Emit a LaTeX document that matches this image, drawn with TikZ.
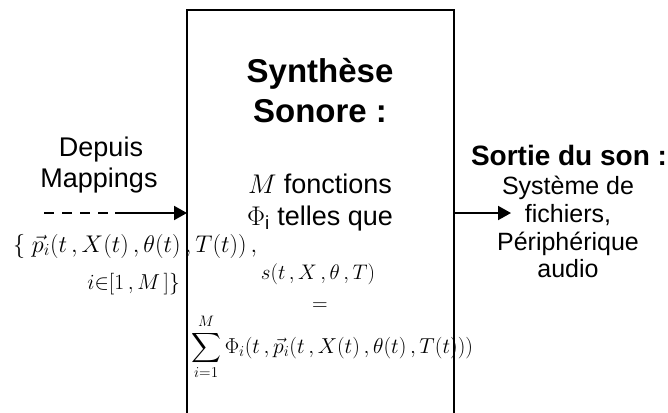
\documentclass[tikz,border=0pt]{standalone}
\usepackage{fix-cm}
\usepackage{amsmath}
\usepackage{graphicx}
\usepackage{fontspec}
\setmainfont{Liberation Sans}
\usetikzlibrary{arrows.meta}
\begin{document}
\begin{tikzpicture}[x=1pt,y=-1pt,
  txt/.style={inner sep=0pt, anchor=base, font=\fontsize{27}{31}\selectfont},
  outtxt/.style={inner sep=0pt, anchor=base, font=\fontsize{25}{28}\selectfont},
  ttl/.style={inner sep=0pt, anchor=base, font=\fontsize{33}{39}\selectfont\bfseries},
  outttl/.style={inner sep=0pt, anchor=base, font=\fontsize{28}{32}\selectfont\bfseries},
  mth/.style={inner sep=0pt, anchor=base, font=\fontsize{18}{22}\selectfont},
  boxline/.style={line width=2.5pt, black},
  conn/.style={line width=2pt, black},
  tip/.style={-{Triangle[length=13pt,width=14pt]}}
]
\useasboundingbox (0,0) rectangle (668,412);
\fill[white] (0,0) rectangle (668,412);

% coordinates
\coordinate (boxTL) at (187,10);
\coordinate (boxTR) at (454,10);
\coordinate (boxBL) at (187,420);
\coordinate (boxBR) at (454,420);
\coordinate (inStart) at (44,213);
\coordinate (inMid) at (115,213);
\coordinate (boxIn) at (187,213);
\coordinate (boxOut) at (454,213);
\coordinate (outTip) at (511,213);

% synthesis box (open at the bottom, beyond the frame)
\begin{scope}
\clip (0,0) rectangle (668,412);
\draw[boxline] (boxBL) -- (boxTL) -- (boxTR) -- (boxBR);
\end{scope}

% connectors
\draw[conn, dash pattern=on 10pt off 8pt] (inStart) -- (inMid);
\draw[conn, tip] (inMid) -- (boxIn);
\draw[conn, tip] (boxOut) -- (outTip);

% left labels
\node[txt] (dep1) at (101,156) {Depuis};
\node[txt] (dep2) at (99,187) {Mappings};

% box title
\node[ttl] (syn1) at (320,82) {Synthèse};
\node[ttl] (syn2) at (320,122) {Sonore :};
\node[txt] (fn1) at (320,193) {$M$ fonctions};
\node[txt] (fn2) at (320,225) {$\Phi$\textsubscript{i} telles que};

% output labels
\node[outttl] (out0) at (569,165) {Sortie du son :};
\node[outtxt] (out1) at (568,194) {Système de};
\node[outtxt] (out2) at (568,222) {fichiers,};
\node[outtxt] (out3) at (568,250) {Périphérique};
\node[outtxt] (out4) at (568,277) {audio};

% formulas
\node[mth, anchor=base west] (f1) at (13,252) {\scalebox{1.34}{$\{\;\vec{p}_i(t\,,X(t)\,,\theta(t)\,,T(t))\,,$}};
\node[mth, anchor=base east] (f2) at (180,289) {\scalebox{1.2}{$i{\in}[1\,,M\,]\}$}};
\node[mth] (f3) at (318,279) {\scalebox{1.17}{$s(t\,,X\,,\theta\,,T)$}};
\node[mth] (f4) at (320,310) {\scalebox{1.2}{$=$}};
\node[mth, anchor=base west] (f5) at (191,353) {\scalebox{1.2}{$\displaystyle\sum_{i=1}^{M}\Phi_i(t\,,\vec{p}_i(t\,,X(t)\,,\theta(t)\,,T(t)))$}};
\end{tikzpicture}
\end{document}
